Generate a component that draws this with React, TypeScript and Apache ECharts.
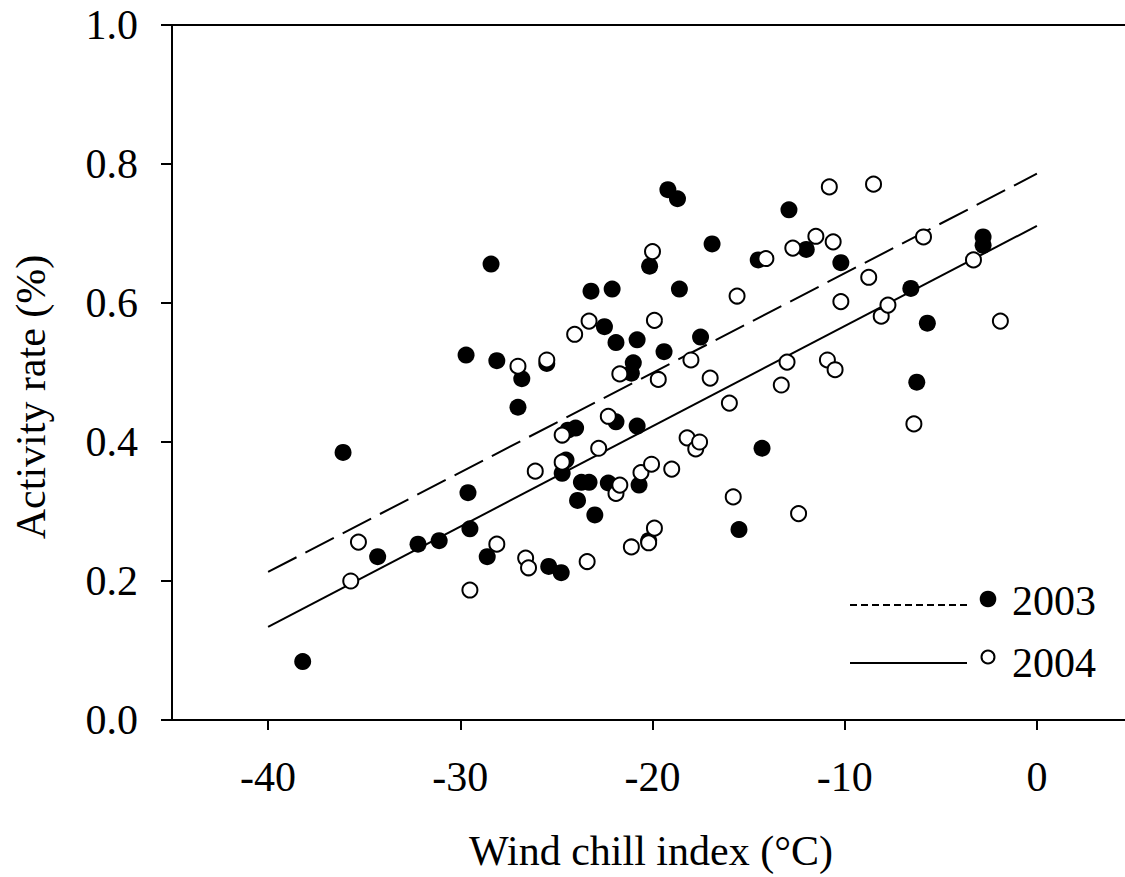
import React, { useEffect, useRef } from "react";
import * as echarts from "echarts";

const xTicks = [-40, -30, -20, -10, 0];
const yTicks = [0, 0.2, 0.4, 0.6, 0.8, 1.0];

const data2003: [number, number][] = [
  [-38.2, 0.084], [-36.1, 0.385], [-34.3, 0.235], [-32.2, 0.253], [-31.1, 0.258],
  [-29.7, 0.525], [-29.6, 0.327], [-29.5, 0.275], [-28.6, 0.235], [-28.4, 0.656],
  [-28.1, 0.517], [-26.8, 0.491], [-27.0, 0.45], [-25.5, 0.513], [-25.4, 0.221],
  [-24.75, 0.212], [-24.7, 0.355], [-24.5, 0.374], [-24.4, 0.417], [-24.0, 0.42],
  [-23.9, 0.316], [-23.7, 0.342], [-23.3, 0.342], [-23.2, 0.617], [-23.0, 0.295],
  [-22.5, 0.566], [-22.3, 0.341], [-22.1, 0.62], [-21.9, 0.543], [-21.9, 0.429],
  [-21.1, 0.499], [-21.0, 0.514], [-20.8, 0.547], [-20.8, 0.423], [-20.7, 0.338],
  [-20.15, 0.653], [-20.2, 0.258], [-19.4, 0.53], [-19.2, 0.763], [-18.7, 0.75],
  [-18.6, 0.62], [-17.5, 0.551], [-16.9, 0.685], [-15.5, 0.274], [-14.5, 0.662],
  [-14.3, 0.391], [-12.9, 0.734], [-12.0, 0.677], [-10.2, 0.658], [-6.56, 0.621],
  [-6.25, 0.486], [-5.7, 0.571], [-2.8, 0.695], [-2.8, 0.683],
];

const data2004: [number, number][] = [
  [-35.7, 0.2], [-35.3, 0.256], [-29.5, 0.187], [-28.1, 0.253], [-27.0, 0.509],
  [-26.6, 0.233], [-26.45, 0.219], [-26.1, 0.358], [-25.5, 0.518], [-24.7, 0.41],
  [-24.7, 0.371], [-24.05, 0.555], [-23.4, 0.228], [-23.3, 0.574], [-22.8, 0.391],
  [-22.3, 0.437], [-21.9, 0.326], [-21.7, 0.498], [-21.7, 0.338], [-21.1, 0.249],
  [-20.6, 0.356], [-20.2, 0.255], [-20.05, 0.368], [-20.0, 0.674], [-19.9, 0.575],
  [-19.9, 0.276], [-19.7, 0.49], [-19.0, 0.361], [-18.2, 0.406], [-18.0, 0.518],
  [-17.75, 0.39], [-17.55, 0.4], [-17.0, 0.492], [-16.0, 0.456], [-15.8, 0.321],
  [-15.6, 0.61], [-14.1, 0.664], [-13.3, 0.482], [-13.0, 0.515], [-12.7, 0.679],
  [-12.4, 0.297], [-11.5, 0.696], [-10.9, 0.518], [-10.8, 0.767], [-10.6, 0.688],
  [-10.5, 0.504], [-10.2, 0.602], [-8.75, 0.637], [-8.5, 0.771], [-8.1, 0.581],
  [-7.75, 0.597], [-6.4, 0.426], [-5.9, 0.695], [-3.3, 0.662], [-1.9, 0.574],
];

const fit2003: [number, number][] = [[-40, 0.213], [0, 0.786]];
const fit2004: [number, number][] = [[-40, 0.134], [0, 0.711]];

const FONT = "'Liberation Serif', 'Times New Roman', serif";

export default function App() {
  const ref = useRef<HTMLDivElement>(null);
  useEffect(() => {
    if (!ref.current) return;
    const chart = echarts.init(ref.current, undefined, { renderer: "svg" });
    const axisText = { fontSize: 42, fontFamily: FONT, color: "#000" };
    chart.setOption({
      animation: false,
      backgroundColor: "#fff",
      grid: {
        left: 172, right: 7, top: 25, bottom: 157,
        show: true, borderColor: "#000", borderWidth: 2, backgroundColor: "transparent",
      },
      xAxis: {
        type: "value", min: -45, max: 5,
        axisLine: { show: true, onZero: false, lineStyle: { color: "#000", width: 2 } },
        axisTick: { show: true, length: 10, customValues: xTicks, lineStyle: { color: "#000", width: 2 } },
        axisLabel: {
          ...axisText, margin: 36, customValues: xTicks,
          formatter: (v: number) => (Math.abs(v % 10) < 1e-9 ? String(v) : ""),
        },
        splitLine: { show: false },
      },
      yAxis: {
        type: "value", min: 0, max: 1, interval: 0.2,
        axisLine: { show: true, onZero: false, lineStyle: { color: "#000", width: 2 } },
        axisTick: { show: true, length: 11, customValues: yTicks, lineStyle: { color: "#000", width: 2 } },
        axisLabel: { ...axisText, margin: 34, customValues: yTicks, formatter: (v: number) => v.toFixed(1) },
        splitLine: { show: false },
      },
      series: [
        {
          type: "line", data: fit2003, showSymbol: false, symbol: "none", z: 1,
          lineStyle: { color: "#000", width: 2, type: [32, 10] }, silent: true,
        },
        {
          type: "line", data: fit2004, showSymbol: false, symbol: "none", z: 1,
          lineStyle: { color: "#000", width: 2, type: "solid" }, silent: true,
        },
        {
          name: "2003", type: "scatter", data: data2003, symbol: "circle", symbolSize: 17, z: 3,
          itemStyle: { color: "#000", opacity: 1 },
        },
        {
          name: "2004", type: "scatter", data: data2004, symbol: "circle", symbolSize: 15, z: 4,
          itemStyle: { color: "#fff", borderColor: "#000", borderWidth: 2, opacity: 1 },
        },
      ],
      graphic: [
        {
          type: "text", x: 31, y: 397, rotation: Math.PI / 2,
          style: { text: "Activity rate (%)", fontSize: 42, fontFamily: FONT, fill: "#000", align: "center", verticalAlign: "middle" },
        },
        {
          type: "text", x: 651, y: 851,
          style: { text: "Wind chill index (°C)", fontSize: 42, fontFamily: FONT, fill: "#000", align: "center", verticalAlign: "middle" },
        },
        {
          type: "line", shape: { x1: 850, y1: 605, x2: 967, y2: 605 },
          style: { stroke: "#000", lineWidth: 2, lineDash: [7, 4] },
        },
        { type: "circle", shape: { cx: 988, cy: 599, r: 8.3 }, style: { fill: "#000" } },
        {
          type: "text", x: 1012, y: 601,
          style: { text: "2003", fontSize: 42, fontFamily: FONT, fill: "#000", align: "left", verticalAlign: "middle" },
        },
        {
          type: "line", shape: { x1: 850, y1: 663, x2: 967, y2: 663 },
          style: { stroke: "#000", lineWidth: 2 },
        },
        { type: "circle", shape: { cx: 988, cy: 657, r: 6.5 }, style: { fill: "#fff", stroke: "#000", lineWidth: 2 } },
        {
          type: "text", x: 1012, y: 663,
          style: { text: "2004", fontSize: 42, fontFamily: FONT, fill: "#000", align: "left", verticalAlign: "middle" },
        },
      ],
    });
    return () => chart.dispose();
  }, []);
  return (
    <div style={{ position: "absolute", left: 0, top: 0, width: 1125, height: 877, overflow: "hidden", background: "#fff" }}>
      <div ref={ref} style={{ width: 1140, height: 877 }} />
    </div>
  );
}
